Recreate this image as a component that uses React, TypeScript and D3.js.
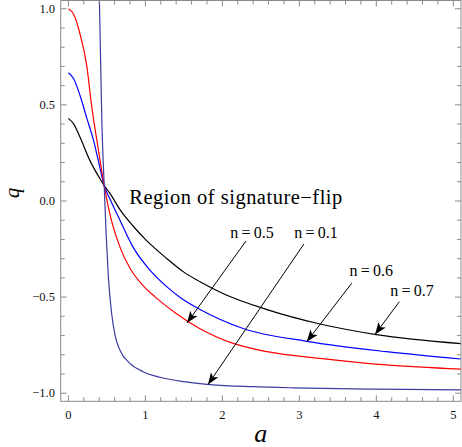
import React from "react";
import * as d3 from "d3";

// ---- data ----
const aN05 = [0, 0.07, 0.15, 0.24, 0.3, 0.38, 0.465, 0.54, 0.67, 0.8, 0.97, 1.13, 1.4, 1.71, 2.14, 2.58, 3.3, 4.13, 5.1];
const qN05 = [1.0, 0.97, 0.87, 0.7, 0.5, 0.29, 0.08, -0.07, -0.24, -0.35, -0.44, -0.5, -0.585, -0.665, -0.741, -0.784, -0.82, -0.853, -0.875];

const aN06 = [0, 0.07, 0.15, 0.24, 0.33, 0.4, 0.465, 0.54, 0.67, 0.84, 1.06, 1.28, 1.47, 1.71, 2.27, 3.1, 4.13, 5.1];
const qN06 = [0.667, 0.635, 0.55, 0.43, 0.31, 0.19, 0.08, 0.01, -0.1, -0.24, -0.36, -0.447, -0.507, -0.564, -0.663, -0.73, -0.784, -0.822];

const aN07 = [0, 0.07, 0.15, 0.28, 0.41, 0.465, 0.54, 0.67, 0.84, 1.0, 1.28, 1.5, 1.71, 2.0, 2.58, 3.27, 4.0, 5.1];
const qN07 = [0.43, 0.4, 0.333, 0.21, 0.116, 0.08, 0.04, -0.045, -0.13, -0.2, -0.3, -0.37, -0.42, -0.48, -0.565, -0.64, -0.695, -0.742];

const aN01 = [0.38, 0.4, 0.434, 0.465, 0.49, 0.52, 0.56, 0.61, 0.67, 0.8, 0.97, 1.19, 1.5, 1.84, 2.4, 2.92, 4.0, 5.1];
const qN01 = [1.8, 1.1, 0.42, 0.08, -0.17, -0.4, -0.58, -0.705, -0.776, -0.845, -0.888, -0.917, -0.94, -0.955, -0.966, -0.972, -0.979, -0.983];

const xTicks = [0, 1, 2, 3, 4, 5];
const yTicks = [-1.0, -0.5, 0.0, 0.5, 1.0];

// annotations: label, label position (a, q), arrow tail (a, q), arrow tip (a, q)
const annLabels = ["n\u2009=\u20090.5", "n\u2009=\u20090.1", "n\u2009=\u20090.6", "n\u2009=\u20090.7"];
const annLabelPos = [[2.385, -0.194], [3.217, -0.194], [3.935, -0.39], [4.464, -0.494]];
const annTail = [[2.307, -0.208], [3.059, -0.224], [3.68, -0.428], [4.299, -0.524]];
const annTip = [[1.54, -0.635], [1.813, -0.955], [3.096, -0.732], [3.983, -0.694]];

const regionText = "Region of signature\u2212flip";
const regionPos = [0.791, -0.017];

const series = [
  { a: aN07, q: qN07, color: "#000000" },
  { a: aN06, q: qN06, color: "#0000ff" },
  { a: aN05, q: qN05, color: "#ff0000" },
  { a: aN01, q: qN01, color: "#3b3ba0" },
];

const W = 462;
const H = 447;
const L = 60.7, R = 461, T = 0.5, B = 401.3;

const fmt = (v: number) => (v < 0 ? "\u2212" : "") + Math.abs(v).toFixed(1);

export default function App() {
  const x = d3.scaleLinear().domain([-0.1, 5.1]).range([L, R]);
  const y = d3.scaleLinear().domain([-1.042, 1.043]).range([B, T]);
  const line = d3
    .line<[number, number]>()
    .x((d) => x(d[0]))
    .y((d) => y(d[1]))
    .curve(d3.curveMonotoneX);

  const xMinor = d3.range(0, 5.01, 0.2).map((v) => +v.toFixed(2));
  const yMinor = d3.range(-1.0, 1.001, 0.1).map((v) => +v.toFixed(2));
  const isMajorX = (v: number) => Math.abs(v - Math.round(v)) < 1e-6;
  const isMajorY = (v: number) => Math.abs(v * 2 - Math.round(v * 2)) < 1e-6;
  const frame = "#8a8a8a";
  const font = "Liberation Serif, Times New Roman, serif";

  const arrowHead = (tx: number, ty: number, fx: number, fy: number) => {
    const ang = Math.atan2(ty - fy, tx - fx);
    const len = 12, hw = 4.5, notch = 9;
    const c = Math.cos(ang), s = Math.sin(ang);
    const p = (dl: number, dw: number) => [tx - dl * c - dw * s, ty - dl * s + dw * c];
    const pts = [[tx, ty], p(len, hw), p(notch, 0), p(len, -hw)];
    return pts.map((q) => q.join(",")).join(" ");
  };

  return (
    <svg
      width={W}
      height={H}
      style={{ position: "absolute", left: 0, top: 0, background: "#fff" }}
    >
      <defs>
        <clipPath id="plotclip">
          <rect x={L} y={T} width={R - L} height={B - T} />
        </clipPath>
      </defs>
      <rect x={0} y={0} width={W} height={H} fill="#fff" />

      <g clipPath="url(#plotclip)">
        {series.map((s, i) => (
          <path
            key={i}
            d={line(s.a.map((a, j) => [a, s.q[j]] as [number, number])) || ""}
            fill="none"
            stroke={s.color}
            strokeWidth={1.2}
          />
        ))}
      </g>

      {/* frame */}
      <rect x={L} y={T} width={R - L} height={B - T} fill="none" stroke={frame} strokeWidth={1} />
      {xMinor.map((v) => {
        const len = isMajorX(v) ? 6 : 4;
        return (
          <g key={"xt" + v}>
            <line x1={x(v)} x2={x(v)} y1={B} y2={B - len} stroke={frame} />
            <line x1={x(v)} x2={x(v)} y1={T} y2={T + len} stroke={frame} />
          </g>
        );
      })}
      {yMinor.map((v) => {
        const len = isMajorY(v) ? 6 : 4;
        return (
          <g key={"yt" + v}>
            <line x1={L} x2={L + len} y1={y(v)} y2={y(v)} stroke={frame} />
            <line x1={R} x2={R - len} y1={y(v)} y2={y(v)} stroke={frame} />
          </g>
        );
      })}
      {xTicks.map((v) => (
        <text key={"xl" + v} x={x(v)} y={418.5} textAnchor="middle" fontFamily={font} fontSize={12.5} fill="#111">
          {v}
        </text>
      ))}
      {yTicks.map((v) => (
        <text key={"yl" + v} x={55} y={y(v) + 4.2} textAnchor="end" fontFamily={font} fontSize={12.5} fill="#111">
          {fmt(v)}
        </text>
      ))}

      {/* axis labels */}
      <text x={(L + R) / 2} y={442} textAnchor="middle" fontFamily={font} fontStyle="italic" fontSize={26}>
        a
      </text>
      <text
        transform={`translate(19,${y(0) - 8}) rotate(-90)`}
        textAnchor="middle"
        fontFamily={font}
        fontStyle="italic"
        fontSize={21}
      >
        q
      </text>

      {/* annotations */}
      <text x={x(regionPos[0])} y={y(regionPos[1])} fontFamily={font} fontSize={20.5} textLength={213} lengthAdjust="spacing">
        {regionText}
      </text>
      {annLabels.map((lab, i) => {
        const tx = x(annTip[i][0]), ty = y(annTip[i][1]);
        const fx = x(annTail[i][0]), fy = y(annTail[i][1]);
        return (
          <g key={lab}>
            <text
              x={x(annLabelPos[i][0])}
              y={y(annLabelPos[i][1])}
              textAnchor="middle"
              fontFamily={font}
              fontSize={16}
            >
              {lab}
            </text>
            <line x1={fx} y1={fy} x2={tx} y2={ty} stroke="#000" strokeWidth={1} />
            <polygon points={arrowHead(tx, ty, fx, fy)} fill="#000" />
          </g>
        );
      })}
    </svg>
  );
}
